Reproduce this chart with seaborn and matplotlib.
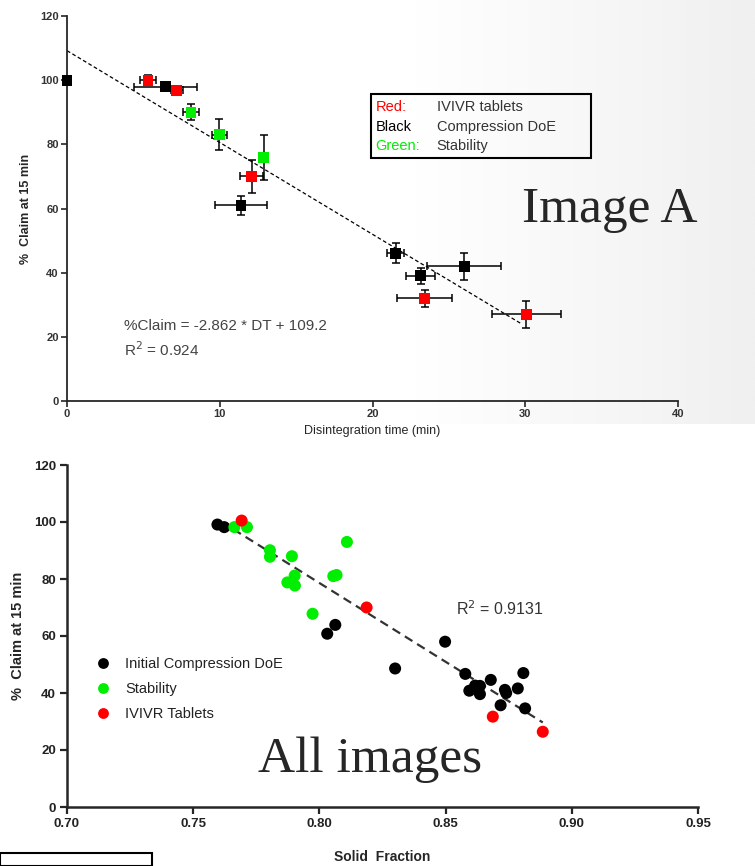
import numpy as np
import pandas as pd
import matplotlib
matplotlib.use("Agg")
import matplotlib.pyplot as plt
from matplotlib.patches import Rectangle
import seaborn as sns

# Image A: % claim vs disintegration time
dt = [0, 5.3, 6.46, 7.18, 8.12, 9.97, 12.87, 12.09, 11.39, 21.51, 26.0, 23.15, 23.41, 30.08]
dt_err = [0, 0.55, 2.07, 0.4, 0.54, 0.5, 0, 0.77, 1.7, 0.55, 2.4, 0.96, 1.8, 2.24]
claim_a = [100, 100, 98, 96.8, 90, 83, 76, 70, 61, 46, 42, 39, 32, 27]
claim_a_err = [0, 1.5, 0.6, 1.0, 2.5, 4.8, 7, 5.2, 2.9, 3.1, 4.2, 2.6, 2.6, 4.2]
group_a = ["Black", "Red", "Black", "Red", "Green", "Green", "Green", "Red",
           "Black", "Black", "Black", "Black", "Red", "Red"]
fit_a = (-2.862, 109.2)   # slope, intercept
fit_a_range = (0, 29.8)

# All images: % claim vs solid fraction
sf_doe = [0.7596, 0.7623, 0.8031, 0.8063, 0.830, 0.8498, 0.8578, 0.8594, 0.8617,
          0.8636, 0.8636, 0.8679, 0.8718, 0.8735, 0.8740, 0.8786, 0.8808, 0.8815]
claim_doe = [99.1, 98.2, 60.8, 63.9, 48.6, 58, 46.7, 40.8, 42.6,
             42.5, 39.6, 44.6, 35.7, 41.1, 40.0, 41.6, 47, 34.6]
sf_stab = [0.7663, 0.7713, 0.7804, 0.7804, 0.7891, 0.7873, 0.7902, 0.7903,
           0.7973, 0.8055, 0.8068, 0.8109]
claim_stab = [98.2, 98.2, 90.1, 87.8, 88, 78.8, 81.2, 77.7, 67.8, 81.0, 81.4, 93]
sf_ivivr = [0.7692, 0.8187, 0.8687, 0.8885]
claim_ivivr = [100.5, 70, 31.7, 26.4]
fit_b = (-553.0, 521.0)
fit_b_range = (0.7659, 0.8885)

colors = {"Red": "#ff0000", "Black": "#000000", "Green": "#00ee00"}
font = "Liberation Sans"

sns.set_style("ticks")
plt.rcParams["font.family"] = [font, "DejaVu Sans"]

fig = plt.figure(figsize=(7.55, 8.66), dpi=100)

# slide-like grey gradient behind the top image
bg = fig.add_axes([0, 1 - 424 / 866, 1, 424 / 866], zorder=-5)
grad = np.clip((np.linspace(0, 1, 400) - 0.55) / 0.45, 0, 1)
bg.imshow(grad[None, :], aspect="auto", cmap=matplotlib.colors.LinearSegmentedColormap.from_list(
    "g", ["#ffffff", "#f0f0f0"]), extent=[0, 1, 0, 1])
bg.axis("off")

# ---------------- top plot ----------------
ax1 = fig.add_axes([67 / 755, 1 - 401 / 866, (678 - 67) / 755, (401 - 16) / 866])
ax1.patch.set_alpha(0)
df_a = pd.DataFrame({"dt": dt, "claim": claim_a, "group": group_a,
                     "xerr": dt_err, "yerr": claim_a_err})
ax1.errorbar(df_a["dt"], df_a["claim"], xerr=df_a["xerr"], yerr=df_a["yerr"],
             fmt="none", ecolor="black", elinewidth=1.1, capsize=3, capthick=1.1, zorder=2)
sns.scatterplot(data=df_a, x="dt", y="claim", hue="group", palette=colors,
                marker="s", s=60, edgecolor="none", legend=False, ax=ax1, zorder=3,
                clip_on=False)
xs = np.array(fit_a_range)
ax1.plot(xs, fit_a[0] * xs + fit_a[1], color="black", lw=0.9, ls=(0, (3, 2)), zorder=1)
ax1.set_xlim(0, 40)
ax1.set_ylim(0, 120)
ax1.set_xticks([0, 10, 20, 30, 40])
ax1.set_yticks(range(0, 121, 20))
for s in ["top", "right"]:
    ax1.spines[s].set_visible(False)
for s in ["left", "bottom"]:
    ax1.spines[s].set_linewidth(1.3)
ax1.tick_params(length=4, width=1.2, labelsize=8, pad=2)
for lab in ax1.get_xticklabels() + ax1.get_yticklabels():
    lab.set_fontweight("bold")
    lab.set_color("#333333")
ax1.set_xlabel("Disintegration time (min)", fontsize=9, labelpad=4)
ax1.set_ylabel("%  Claim at 15 min", fontsize=9, fontweight="bold", labelpad=6)
ax1.text(3.7, 22, "%Claim = -2.862 * DT + 109.2", fontsize=11, color="#444444")
ax1.text(3.7, 14, "R$^2$ = 0.924", fontsize=11, color="#444444")

# legend box drawn as text
ax1.add_patch(Rectangle((19.9, 75.6), 14.4, 20, transform=ax1.transData, fill=False,
                        lw=1.5, edgecolor="black", clip_on=False))
rows = [("Red:", "IVIVR tablets", "Red"), ("Black", "Compression DoE", "Black"),
        ("Green:", "Stability", "Green")]
for i, (k, v, c) in enumerate(rows):
    y = 91.5 - i * 6.0
    ax1.text(20.2, y, k, fontsize=10.5, color=colors[c], va="center")
    ax1.text(24.2, y, v, fontsize=10.5, color="#333333", va="center")

fig.text(610 / 755, 1 - 210 / 866, "Image A", fontsize=37, family="Liberation Serif",
         ha="center", va="center")

# ---------------- bottom plot ----------------
ax2 = fig.add_axes([67 / 755, 1 - 807 / 866, (698 - 67) / 755, (807 - 465) / 866])
df_b = pd.DataFrame({
    "sf": sf_doe + sf_stab + sf_ivivr,
    "claim": claim_doe + claim_stab + claim_ivivr,
    "group": (["Initial Compression DoE"] * len(sf_doe) + ["Stability"] * len(sf_stab)
              + ["IVIVR Tablets"] * len(sf_ivivr)),
})
pal_b = {"Initial Compression DoE": "#000000", "Stability": "#00ee00",
         "IVIVR Tablets": "#ff0000"}
sns.scatterplot(data=df_b, x="sf", y="claim", hue="group", palette=pal_b, s=75,
                edgecolor="none", ax=ax2, zorder=3)
xs = np.array(fit_b_range)
ax2.plot(xs, fit_b[0] * xs + fit_b[1], color="#333333", lw=1.6, ls=(0, (4, 2.5)), zorder=2)
ax2.set_xlim(0.70, 0.95)
ax2.set_ylim(0, 120)
ax2.set_xticks([0.70, 0.75, 0.80, 0.85, 0.90, 0.95])
ax2.set_xticklabels(["0.70", "0.75", "0.80", "0.85", "0.90", "0.95"])
ax2.set_yticks(range(0, 121, 20))
for s in ["top", "right"]:
    ax2.spines[s].set_visible(False)
for s in ["left", "bottom"]:
    ax2.spines[s].set_linewidth(1.8)
ax2.tick_params(length=5, width=1.6, labelsize=9.5, pad=3)
for lab in ax2.get_xticklabels() + ax2.get_yticklabels():
    lab.set_fontweight("bold")
    lab.set_color("#222222")
ax2.set_xlabel("Solid  Fraction", fontsize=10, fontweight="bold", labelpad=14)
ax2.set_ylabel("%  Claim at 15 min", fontsize=10.5, fontweight="bold", labelpad=6)
ax2.text(0.854, 67.5, "R$^2$ = 0.9131", fontsize=11.5, color="#333333")
leg = ax2.legend(loc="upper left", bbox_to_anchor=(0.025, 0.455), frameon=False,
                 fontsize=10.5, handletextpad=0.5, labelspacing=0.75, markerscale=0.9,
                 borderaxespad=0)
for t in leg.get_texts():
    t.set_color("#222222")

fig.text(370 / 755, 1 - 760 / 866, "All images", fontsize=37, family="Liberation Serif",
         ha="center", va="center")

# black box at lower left corner
fig.patches.append(Rectangle((0, 0), 152 / 755, 13 / 866, transform=fig.transFigure,
                             fill=False, lw=1.5, edgecolor="black"))

fig.savefig("out.png", dpi=100)
